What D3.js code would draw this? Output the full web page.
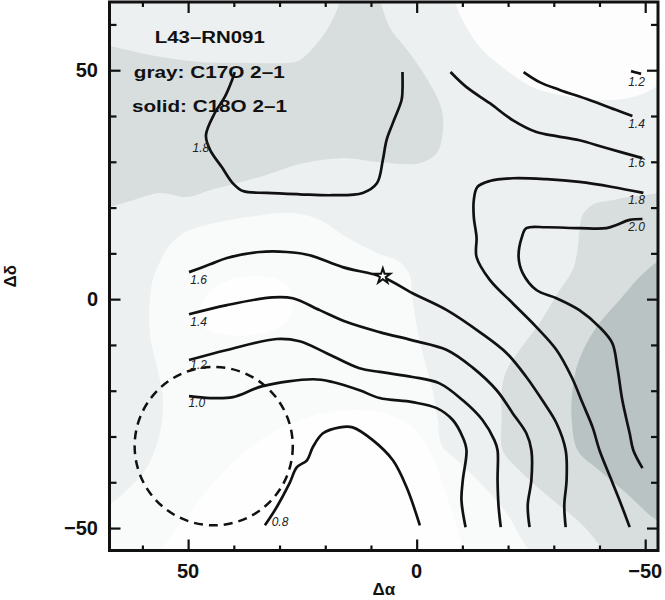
<!DOCTYPE html>
<html><head><meta charset="utf-8">
<script src="https://cdn.jsdelivr.net/npm/d3@7"></script>
<style>body{margin:0;background:#fff}</style>
</head><body>
<svg id="chart" width="665" height="600"></svg>
<script>
// ---------------- DATA (offsets in arcsec: [Δα, Δδ]) ----------------
const xMajorTicks = [50, 0, -50];
const yMajorTicks = [50, 0, -50];
const minorTicks = [60, 50, 40, 30, 20, 10, 0, -10, -20, -30, -40, -50];
const xTickLabels = ["50", "0", "\u221250"];
const yTickLabels = ["50", "0", "\u221250"];

// C17O 2-1 (gray filled levels)
const grayWhiteCentral = [[69.3,-47.2],[67.3,-45.2],[66.7,-44.6],[63.4,-41.7],[59.0,-36.7],[56.2,-29.3],[55.5,-22.1],[56.8,-14.9],[58.4,-7.4],[57.9,3.5],[56.2,8.1],[54.0,11.8],[50.7,14.6],[45.2,16.4],[35.8,18.1],[27.1,18.8],[21.2,17.3],[15.3,13.5],[8.7,10.1],[3.7,8.1],[1.5,5.2],[0.9,-0.2],[-0.2,-6.8],[-1.7,-13.3],[-3.5,-19.9],[-4.6,-26.4],[-5.5,-31.9],[-8.3,-34.7],[-13.8,-40.0],[-19.2,-46.1],[-22.5,-51.6],[-24.7,-57.0],[69.3,-57.0]];
const grayWhiteInner = [[55.5,-57.0],[55.5,-54.8],[49.6,-46.5],[42.0,-37.4],[34.3,-30.8],[25.6,-26.4],[16.8,-24.3],[8.1,-24.7],[1.5,-27.5],[-2.8,-33.0],[-6.1,-41.7],[-9.0,-50.5],[-9.8,-57.0]];
const grayWhitePatch = [[47.4,-4.6],[45.9,0.9],[40.9,4.2],[34.3,5.0],[28.9,3.5],[27.1,-0.2],[28.2,-4.6],[33.2,-7.4],[40.9,-7.9],[45.7,-6.8]];
const grayWhiteTopRight = [[-8.3,67.5],[-8.3,65.3],[-10.9,59.4],[-14.4,54.4],[-19.7,50.0],[-25.4,46.3],[-34.1,44.1],[-42.8,43.5],[-47.2,44.1],[-50.3,45.2],[-53.1,46.8],[-55.3,47.8],[-55.3,67.5]];
const grayMediumTopLeft = [[69.3,19.4],[67.1,20.1],[62.1,21.6],[56.2,23.2],[50.3,22.3],[45.2,23.8],[34.3,26.7],[24.9,29.7],[16.2,30.8],[8.1,29.9],[-0.7,29.7],[-4.4,31.9],[-5.7,36.3],[-5.5,41.3],[-2.8,47.2],[1.5,53.7],[5.9,59.4],[8.1,65.3],[9.2,67.5],[16.8,67.5],[16.8,65.3],[18.4,61.0],[21.2,56.6],[25.6,52.2],[28.4,51.6],[36.5,51.6],[47.4,51.8],[58.4,53.3],[66.4,55.1],[69.3,55.5]];
const grayMediumRight = [[-55.3,23.8],[-53.1,23.2],[-45.0,22.1],[-42.8,21.6],[-39.3,21.0],[-37.8,20.1],[-36.3,18.4],[-35.6,15.1],[-35.2,10.7],[-34.1,6.3],[-31.3,2.0],[-26.9,-5.2],[-22.5,-11.1],[-19.7,-15.5],[-18.6,-19.9],[-18.6,-25.8],[-18.8,-33.0],[-22.5,-37.4],[-29.1,-43.3],[-35.6,-48.7],[-40.0,-53.7],[-42.2,-57.0],[-55.3,-57.0]];
const grayDarkRight = [[-55.3,9.6],[-53.1,8.5],[-48.7,4.8],[-44.4,-0.2],[-40.0,-5.2],[-37.2,-9.6],[-35.0,-14.9],[-34.1,-19.9],[-33.9,-25.8],[-35.2,-33.0],[-40.0,-37.4],[-45.9,-42.4],[-51.6,-47.6],[-55.3,-49.4]];

// C18O 2-1 (solid contours)
const c18o_08 = [[33.2,-49.4],[30.6,-45.4],[27.8,-40.2],[26.2,-36.7],[24.0,-35.2],[22.7,-32.3],[20.5,-29.3],[16.8,-28.0],[14.0,-28.0],[9.6,-30.8],[5.2,-35.2],[2.2,-41.1],[-0.7,-49.4]];
const c18o_10 = [[49.8,-21.2],[45.2,-21.6],[40.2,-21.4],[33.7,-19.0],[22.7,-17.5],[18.4,-18.1],[12.5,-19.9],[8.1,-21.6],[0.9,-22.5],[-4.4,-23.8],[-7.9,-26.4],[-10.1,-30.2],[-10.9,-33.0],[-10.1,-39.5],[-9.8,-43.9],[-10.7,-49.8]];
const c18o_12 = [[49.8,-13.3],[41.5,-11.1],[30.6,-8.7],[25.6,-9.2],[19.7,-11.8],[12.5,-15.1],[8.1,-15.9],[0.9,-17.0],[-5.0,-18.4],[-10.1,-22.1],[-14.4,-26.4],[-17.0,-30.8],[-17.7,-33.0],[-17.7,-39.5],[-17.9,-45.0],[-18.4,-49.8]];
const c18o_12b = [[-46.9,49.8],[-48.0,49.5],[-49.1,49.2]];
const c18o_14 = [[49.8,-3.3],[41.5,-1.3],[31.5,0.4],[27.1,0.2],[21.2,-2.4],[15.3,-5.0],[8.1,-7.2],[0.9,-9.0],[-6.6,-11.1],[-12.2,-14.9],[-17.5,-19.9],[-21.0,-24.9],[-24.0,-29.3],[-25.1,-33.0],[-25.1,-39.5],[-24.3,-45.0],[-24.7,-49.8]];
const c18o_14b = [[-23.4,49.6],[-26.9,47.4],[-31.3,45.7],[-37.8,43.5],[-43.7,41.3],[-47.2,40.0]];
const c18o_16 = [[49.8,5.9],[45.2,7.6],[41.5,9.0],[34.3,10.3],[28.4,10.3],[23.4,9.6],[16.2,7.0],[7.4,4.8],[0.9,1.3],[-6.6,-2.4],[-13.8,-7.2],[-19.7,-11.8],[-24.0,-17.0],[-27.5,-22.1],[-30.6,-27.1],[-32.6,-33.0],[-32.8,-39.5],[-32.3,-45.0],[-32.6,-49.8]];
const c18o_16b = [[-7.4,49.6],[-10.9,46.3],[-16.0,42.8],[-21.0,39.1],[-26.2,36.5],[-30.6,35.6],[-35.6,34.7],[-41.5,33.0],[-49.4,30.8]];
const c18o_18 = [[39.8,49.6],[40.4,47.8],[42.0,44.1],[44.2,40.6],[46.1,35.8],[45.2,32.6],[42.6,28.8],[40.2,25.3],[38.0,23.6],[32.8,23.2],[25.6,22.9],[18.4,22.7],[11.8,23.2],[8.7,25.3],[7.4,30.4],[6.6,34.7],[5.2,38.5],[3.3,43.5],[3.1,45.7],[3.1,49.6]];
const c18o_18b = [[-49.6,23.2],[-42.8,24.5],[-35.6,25.6],[-28.4,26.2],[-21.0,26.4],[-16.0,25.8],[-13.3,24.5],[-12.5,21.6],[-12.5,17.9],[-13.1,13.5],[-13.1,9.2],[-16.0,4.2],[-21.0,-0.9],[-26.2,-6.1],[-30.6,-11.1],[-33.9,-17.0],[-36.3,-22.7],[-38.5,-28.0],[-40.0,-33.0],[-42.6,-39.5],[-44.8,-45.0],[-46.6,-49.8]];
const c18o_20 = [[-49.4,17.5],[-46.6,17.3],[-43.7,16.2],[-41.5,15.5],[-35.6,15.5],[-28.4,15.7],[-24.0,15.5],[-23.0,13.5],[-22.3,9.2],[-23.2,5.7],[-26.2,2.0],[-30.6,0.2],[-35.6,-2.4],[-40.0,-6.1],[-42.8,-9.6],[-43.9,-14.9],[-45.0,-22.1],[-46.6,-29.3],[-47.4,-33.0],[-49.4,-36.9]];
const contourLabels = ["1.8","1.6","1.4","1.2","1.0","0.8","1.2","1.4","1.6","1.8","2.0"];
const contourLabelPos = [[47.2,33.0],[47.7,4.2],[47.7,-5.0],[47.7,-14.4],[48.1,-22.7],[29.9,-48.7],[-48.1,47.4],[-48.1,38.2],[-48.1,29.7],[-48.1,21.8],[-48.1,15.7]];

const beam = {a: 44.4, d: -32.1, r: 17.3};
const starPos = [7.4, 5.0];
const titleLines = ["L43\u2013RN091", "gray: C17O 2\u20131", "solid: C18O 2\u20131"];
const titlePos = [[57.3,55.9],[61.9,48.3],[62.3,40.9]];
const titleWidths = [110, 151, 155];

// ---------------- DRAW ----------------
const svg = d3.select("#chart");
const x = d3.scaleLinear().domain([67.2, -52.8]).range([109.5, 658]);
const y = d3.scaleLinear().domain([-54.9, 64.9]).range([550.5, 2]);
const [L, R] = x.range(), [B, T] = y.range();

svg.append("clipPath").attr("id","clip").append("rect")
  .attr("x", L).attr("y", T).attr("width", R-L).attr("height", B-T);
const plot = svg.append("g").attr("clip-path","url(#clip)");

plot.append("rect").attr("x", L).attr("y", T).attr("width", R-L).attr("height", B-T).attr("fill", "#edf0f0");
const shadePath = d3.line().x(d=>x(d[0])).y(d=>y(d[1])).curve(d3.curveCatmullRomClosed.alpha(0.5));
const shades = [
  [grayWhiteCentral, "#f9fafa"],
  [grayWhiteInner, "#fefefe"],
  [grayWhitePatch, "#fefefe"],
  [grayWhiteTopRight, "#fdfdfd"],
  [grayMediumTopLeft, "#d8dddd"],
  [grayMediumRight, "#d8dddd"],
  [grayDarkRight, "#b9c3c3"]
];
shades.forEach(([pts, col]) => {
  plot.append("path").attr("d", shadePath(pts)).attr("fill", col);
});

const font = "Liberation Sans, Arial, sans-serif";
// title text
titleLines.forEach((t,i) => {
  svg.append("text").attr("x", x(titlePos[i][0])).attr("y", y(titlePos[i][1]))
    .attr("font-family", font).attr("font-weight","bold")
    .attr("font-size", 16).attr("textLength", titleWidths[i]).attr("lengthAdjust","spacingAndGlyphs")
    .attr("fill","#111").text(t);
});

// contours
const line = d3.line().x(d=>x(d[0])).y(d=>y(d[1])).curve(d3.curveCatmullRom.alpha(0.5));
[c18o_08,c18o_10,c18o_12,c18o_12b,c18o_14,c18o_14b,c18o_16,c18o_16b,c18o_18,c18o_18b,c18o_20].forEach(c => {
  plot.append("path").attr("d", line(c)).attr("fill","none").attr("stroke","#111")
    .attr("stroke-width", 2.7).attr("stroke-linejoin","round").attr("stroke-linecap","butt");
});
contourLabels.forEach((t,i) => {
  svg.append("text").attr("x", x(contourLabelPos[i][0])).attr("y", y(contourLabelPos[i][1]))
    .attr("dy","0.35em").attr("text-anchor","middle")
    .attr("font-family", font).attr("font-style","italic")
    .attr("font-size", 12).attr("fill","#222").text(t);
});

// beam
plot.append("ellipse").attr("cx", x(beam.a)).attr("cy", y(beam.d))
  .attr("rx", Math.abs(x(beam.r)-x(0))).attr("ry", Math.abs(y(beam.r)-y(0)))
  .attr("fill","none").attr("stroke","#111").attr("stroke-width",2.5).attr("stroke-dasharray","9,6");

// star
plot.append("path").attr("d", d3.symbol(d3.symbolStar, 70)())
  .attr("transform", `translate(${x(starPos[0])},${y(starPos[1])})`)
  .attr("fill","#fff").attr("stroke","#111").attr("stroke-width",2);

// axes (ticks inward on all sides)
function ticks(axisFn, pos, vals, size) {
  const g = svg.append("g").attr("transform", pos)
    .call(axisFn.tickValues(vals).tickSize(size).tickFormat(""));
  g.select(".domain").remove();
  g.selectAll(".tick line").attr("stroke","#111").attr("stroke-width",2.2);
}
const minorX = minorTicks.filter(v => !xMajorTicks.includes(v));
const minorY = minorTicks.filter(v => !yMajorTicks.includes(v));
ticks(d3.axisBottom(x), `translate(0,${B})`, minorX, -5);
ticks(d3.axisBottom(x), `translate(0,${B})`, xMajorTicks, -11);
ticks(d3.axisTop(x), `translate(0,${T})`, minorX, -5);
ticks(d3.axisTop(x), `translate(0,${T})`, xMajorTicks, -11);
ticks(d3.axisLeft(y), `translate(${L},0)`, minorY, -7);
ticks(d3.axisLeft(y), `translate(${L},0)`, yMajorTicks, -11);
ticks(d3.axisRight(y), `translate(${R},0)`, minorY, -7);
ticks(d3.axisRight(y), `translate(${R},0)`, yMajorTicks, -11);

svg.append("rect").attr("x", L).attr("y", T).attr("width", R-L).attr("height", B-T)
  .attr("fill","none").attr("stroke","#111").attr("stroke-width",3);

xMajorTicks.forEach((v,i) => {
  svg.append("text").attr("x", x(v)).attr("y", 578).attr("text-anchor","middle")
    .attr("font-family", font).attr("font-weight","bold").attr("font-size",20).attr("fill","#111").text(xTickLabels[i]);
});
yMajorTicks.forEach((v,i) => {
  svg.append("text").attr("x", 98).attr("y", y(v)).attr("dy","0.35em").attr("text-anchor","end")
    .attr("font-family", font).attr("font-weight","bold").attr("font-size",20).attr("fill","#111").text(yTickLabels[i]);
});
svg.append("text").attr("x", (L+R)/2).attr("y", 595).attr("text-anchor","middle")
  .attr("font-family", font).attr("font-weight","bold").attr("font-size",17).attr("fill","#111").text("\u0394\u03b1");
svg.append("text").attr("transform", `translate(16,${(T+B)/2}) rotate(-90)`).attr("text-anchor","middle")
  .attr("font-family", font).attr("font-weight","bold").attr("font-size",17).attr("fill","#111").text("\u0394\u03b4");
</script></body></html>
